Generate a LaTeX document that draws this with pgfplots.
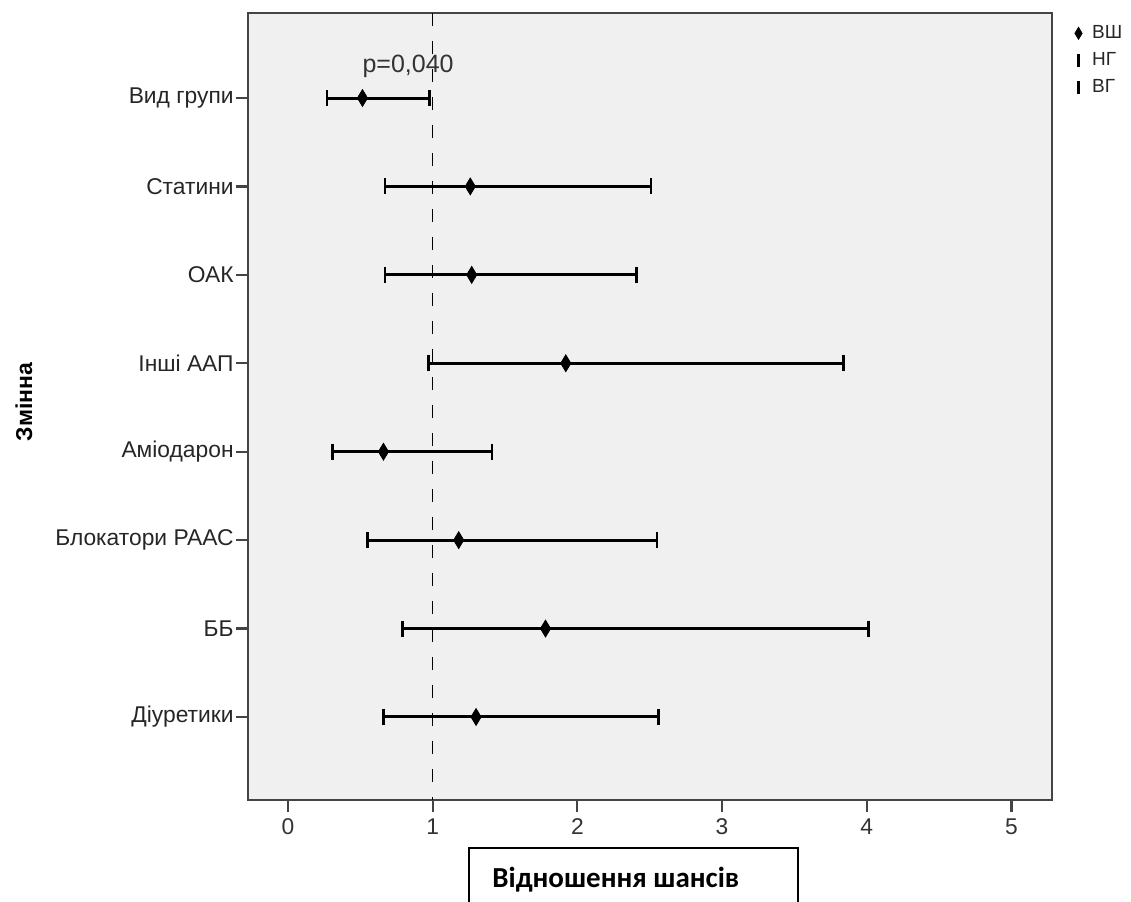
\documentclass[border=0pt]{standalone}
\usepackage{pgfplots}
\pgfplotsset{compat=1.18}
\usepackage{pgfplotstable}
\usepackage{fontspec}
\setmainfont{Liberation Sans}
\newfontfamily\calibri{Carlito}

\definecolor{bggray}{HTML}{F0F0F0}
\definecolor{axgray}{HTML}{444444}
\definecolor{txtgray}{HTML}{333333}

% odds ratio (or) with lower (lo) and upper (hi) bounds of the interval
\pgfplotstableread{
row lo   or    hi
1   0.27 0.515 0.98
2   0.67 1.26  2.51
3   0.67 1.27  2.41
4   0.97 1.92  3.84
5   0.31 0.66  1.41
6   0.55 1.18  2.55
7   0.79 1.78  4.01
8   0.66 1.30  2.56
}\ordata

\begin{document}
\begin{tikzpicture}
\useasboundingbox (-124pt,-50.5pt) rectangle (441.5pt,400pt);
\begin{axis}[
  at={(0,0)}, anchor=south west,
  scale only axis, width=402pt, height=393.5pt,
  xmin=-0.276, xmax=5.28,
  ymin=0.039, ymax=8.939, y dir=reverse,
  xtick={0,1,2,3,4,5},
  ytick={1,2,3,4,5,6,7,8},
  yticklabels={Вид групи, Статини, ОАК, Інші ААП, Аміодарон, Блокатори РААС, ББ, Діуретики},
  tick pos=left, tick align=outside, major tick length=6pt,
  axis line style={axgray, line width=1.1pt},
  every tick/.style={axgray, line width=1.1pt},
  axis background/.style={fill=bggray},
  tick label style={font=\fontsize{11.4}{13}\selectfont},
  xticklabel style={txtgray},
  yticklabel style={black!85, inner sep=1pt},
  /pgf/number format/assume math mode=true,
  clip=false,
  legend style={at={(1.028,0.99)}, anchor=north west, draw=none, fill=none,
    font=\fontsize{9.5}{11}\selectfont, row sep=1.5pt, column sep=3pt,
    inner sep=0pt, cells={anchor=west}, text=black!85},
  legend image code/.code={\draw[#1] plot coordinates {(0pt,0pt)};},
]
% reference line at odds ratio 1
\addplot[forget plot, black, line width=0.5pt, dash pattern=on 6.5pt off 7.5pt]
  coordinates {(1,0.039) (1,8.939)};
\node[txtgray, anchor=base, font=\fontsize{12.5}{14}\selectfont] at (axis cs:0.83,0.717) {p=0,040};
% interval lines
\addplot[forget plot, only marks, mark=none, black,
  error bars/.cd, x dir=both, x explicit, error mark=none,
  error bar style={line width=1.5pt, black}]
  table[x=or, y=row, x error plus expr=\thisrow{hi}-\thisrow{or},
        x error minus expr=\thisrow{or}-\thisrow{lo}] {\ordata};
\addplot[only marks, black, mark=diamond*, mark size=4.2pt,
  mark options={xscale=0.8, fill=black},
  legend image post style={mark size=3pt}]
  table[x=or, y=row] {\ordata};
\addlegendentry{ВШ}
\addplot[only marks, black, mark=|, mark size=4pt, mark options={line width=1.3pt},
  legend image post style={mark size=3.2pt}]
  table[x=lo, y=row] {\ordata};
\addlegendentry{НГ}
\addplot[only marks, black, mark=|, mark size=4pt, mark options={line width=1.3pt},
  legend image post style={mark size=3.2pt}]
  table[x=hi, y=row] {\ordata};
\addlegendentry{ВГ}
\end{axis}
\node[rotate=90, font=\bfseries\fontsize{11.5}{13}\selectfont] at (-112pt,199pt) {Змінна};
\draw[black, line width=0.8pt] (110.5pt,-52pt) -- (110.5pt,-24pt) -- (275pt,-24pt) -- (275pt,-52pt);
\node[anchor=base west, inner sep=0pt, font=\calibri\bfseries\fontsize{14.5}{17}\selectfont] at (122pt,-43.5pt) {Відношення шансів};
\end{tikzpicture}
\end{document}
